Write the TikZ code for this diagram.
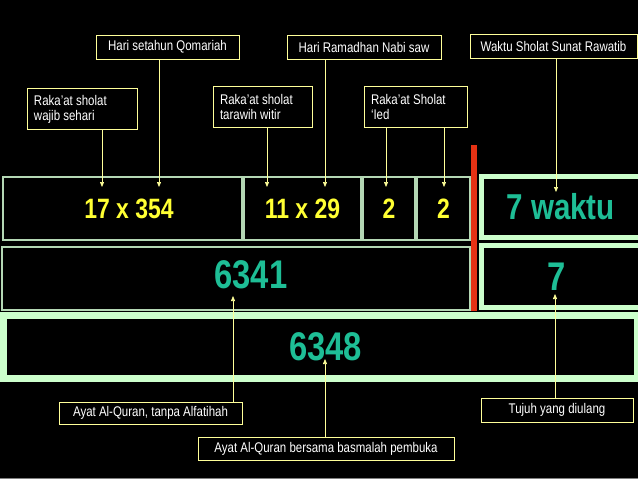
\documentclass[tikz,border=0pt]{standalone}
\usepackage{fontspec}
\newfontfamily\narrowfont[FakeStretch=0.82]{Liberation Sans}
\usetikzlibrary{arrows.meta}
\definecolor{mint}{RGB}{204,255,204}
\definecolor{boxline}{RGB}{180,215,180}
\definecolor{paleyellow}{RGB}{255,255,153}
\definecolor{numyellow}{RGB}{255,255,51}
\definecolor{numteal}{RGB}{30,190,150}
\definecolor{barred}{RGB}{230,50,20}

\begin{document}
\begin{tikzpicture}[x=1pt, y=-1pt,
    note/.style={draw=paleyellow, line width=0.8pt, text=white, inner sep=0pt, align=center,
        minimum height=24pt, font=\narrowfont\fontsize{14}{15}\selectfont},
    note2/.style={note, align=flush left, inner xsep=7pt, text width=#1, minimum height=41pt},
    numbox/.style={draw=boxline, line width=1.3pt, fill=black, inner sep=0pt, text=numyellow,
        font=\narrowfont\bfseries\fontsize{28}{30}\selectfont},
    framebox/.style={draw=mint, line width=#1, fill=black, inner sep=0pt, text=numteal,
        font=\narrowfont\bfseries\fontsize{40}{42}\selectfont},
    bignum/.style={text=numteal, font=\narrowfont\bfseries\fontsize{40}{42}\selectfont},
    arr/.style={draw=paleyellow, line width=0.7pt, -{Triangle[width=4pt,length=5pt]}}
]
    \fill[black] (0,0) rectangle (638,479);
    \fill[gray] (0,477.8) rectangle (638,479);
    \useasboundingbox (0,0) rectangle (638,479);

    \node[note, minimum width=143pt] (qomariah) at (167.5,47) {Hari setahun Qomariah};
    \node[note, minimum width=154pt] (ramadhan) at (364,47) {Hari Ramadhan Nabi saw};
    \node[note, minimum width=167pt] (rawatib) at (553.5,46) {Waktu Sholat Sunat Rawatib};
    \node[note2=96pt] (wajib) at (82,109) {Raka’at sholat\\wajib sehari};
    \node[note2=85pt] (tarawih) at (262.5,106.5) {Raka’at sholat\\tarawih witir};
    \node[note2=89pt] (ied) at (415.5,106.5) {Raka’at Sholat\\‘Ied};

    \node[numbox, minimum width=239pt, minimum height=63pt,
        label={[xshift=6.5pt, text=numyellow, font=\narrowfont\bfseries\fontsize{28}{30}\selectfont]center:17 x 354}] (b17) at (122.5,208.5) {};
    \node[numbox, minimum width=117pt, minimum height=63pt] (b11) at (302.5,208.5) {11 x 29};
    \node[numbox, minimum width=52pt, minimum height=63pt] (b2a) at (389,208.5) {2};
    \node[numbox, minimum width=53pt, minimum height=63pt] (b2b) at (443.5,208.5) {2};
    \node[numbox, minimum width=468pt, minimum height=63pt,
        label={[xshift=15pt, yshift=4pt, bignum]center:6341}] (b6341) at (236,278.5) {};

    \node[framebox=5pt, minimum width=158.5pt, minimum height=61pt,
        font=\narrowfont\bfseries\fontsize{36}{38}\selectfont] (waktu) at (560.75,207) {7 waktu};
    \node[framebox=5pt, minimum width=158.5pt, minimum height=62pt,
        label={[xshift=-4.5pt, bignum]center:7}] (seven) at (560.75,276.5) {};
    \node[framebox=7pt, minimum width=634pt, minimum height=63pt,
        label={[xshift=5pt, bignum]center:6348}] (b6348) at (320.5,347) {};

    \fill[barred] (471,145) rectangle (477,311);

    \node[note, minimum width=183pt, minimum height=22pt] (tanpa) at (150.5,413) {Ayat Al-Quran, tanpa Alfatihah};
    \node[note, minimum width=256pt, minimum height=23pt] (bersama) at (326,448.5) {Ayat Al-Quran bersama basmalah pembuka};
    \node[note, minimum width=152pt] (tujuh) at (557,410) {Tujuh yang diulang};

    \coordinate (p1) at (102,187);
    \coordinate (p2) at (159,187);
    \coordinate (p3) at (267,187);
    \coordinate (p4) at (325,187);
    \coordinate (p5) at (386,187);
    \coordinate (p6) at (444,187);
    \coordinate (p7) at (556,192);
    \coordinate (q1) at (233,296);
    \coordinate (q2) at (325,359);
    \coordinate (q3) at (555,294);

    \draw[arr] (wajib.south -| p1) -- (p1);
    \draw[arr] (qomariah.south -| p2) -- (p2);
    \draw[arr] (tarawih.south -| p3) -- (p3);
    \draw[arr] (ramadhan.south -| p4) -- (p4);
    \draw[arr] (ied.south -| p5) -- (p5);
    \draw[arr] (ied.south -| p6) -- (p6);
    \draw[arr] (rawatib.south -| p7) -- (p7);
    \draw[arr] (tanpa.north -| q1) -- (q1);
    \draw[arr] (bersama.north -| q2) -- (q2);
    \draw[arr] (tujuh.north -| q3) -- (q3);
\end{tikzpicture}
\end{document}
